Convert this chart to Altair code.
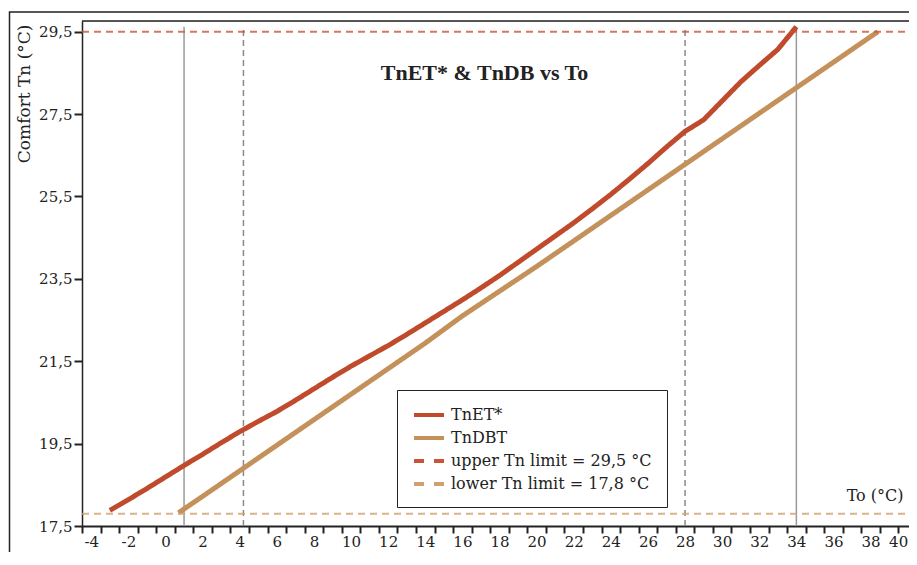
import altair as alt
import pandas as pd

# ---- data ----
to_et = [-3, -2, -1, 0, 1, 2, 3, 4, 5, 6, 7, 8, 9, 10, 11, 12, 13, 14, 15, 16, 17, 18,
         19, 20, 21, 22, 23, 24, 25, 26, 27, 28, 29, 30, 31, 32, 33, 34]
tn_et = [17.88, 18.14, 18.41, 18.69, 18.97, 19.24, 19.52, 19.79, 20.04, 20.28, 20.55,
         20.83, 21.11, 21.38, 21.63, 21.88, 22.15, 22.43, 22.71, 22.99, 23.28, 23.58,
         23.90, 24.22, 24.54, 24.86, 25.20, 25.55, 25.92, 26.30, 26.70, 27.08, 27.36,
         27.82, 28.28, 28.68, 29.07, 29.62]

to_dbt = [0.7, 2, 4, 6, 8, 10, 12, 14, 16, 18, 20, 22, 24, 26, 28, 30, 32, 34, 36, 38, 38.4]
tn_dbt = [17.82, 18.22, 18.84, 19.46, 20.08, 20.70, 21.32, 21.94, 22.60, 23.20, 23.80,
          24.42, 25.04, 25.66, 26.28, 26.90, 27.52, 28.14, 28.76, 29.38, 29.50]

limit_x = [-4.5, 40.5]
upper_limit = 29.5
lower_limit = 17.8

series_names = ["TnET*", "TnDBT", "upper Tn limit = 29,5 °C", "lower Tn limit = 17,8 °C"]
series_colors = ["#bf4a2c", "#c4915a", "#c8553a", "#d2a06c"]

solid_vlines = [1, 34]
dashed_vlines = [4.2, 28]
vline_top = 29.62

y_ticks = [17.5, 19.5, 21.5, 23.5, 25.5, 27.5, 29.5]
x_labels = list(range(-4, 41, 2))
x_ticks = [k + 0.5 for k in range(-5, 41)]

# ---- tables ----
rows = []
for x, y in zip(to_et, tn_et):
    rows.append({"x": x, "y": y, "series": series_names[0]})
for x, y in zip(to_dbt, tn_dbt):
    rows.append({"x": x, "y": y, "series": series_names[1]})
for x in limit_x:
    rows.append({"x": x, "y": upper_limit, "series": series_names[2]})
for x in limit_x:
    rows.append({"x": x, "y": lower_limit, "series": series_names[3]})
lines_df = pd.DataFrame(rows)

solid_df = pd.DataFrame({"x": solid_vlines})
dashed_df = pd.DataFrame({"x": dashed_vlines})

FONT = "DejaVu Serif"
INK = "#222222"

xscale = alt.Scale(domain=[-4.5, 40.07], nice=False, zero=False)
yscale = alt.Scale(domain=[17.5, 29.76], nice=False, zero=False)
cscale = alt.Scale(domain=series_names, range=series_colors)

x_axis = alt.Axis(
    values=x_ticks + x_labels,
    labelExpr="datum.value % 2 === 0 ? '' + datum.value : ''",
    labelAlign={"condition": {"test": "datum.value === 40", "value": "right"}, "value": "center"},
    tickOpacity={"condition": {"test": "datum.value % 1 === 0", "value": 0}, "value": 1},
    labelOverlap=False, labelFlush=False, grid=False,
    domainColor=INK, domainWidth=2, tickColor=INK, tickWidth=2, tickSize=7,
    labelPadding=1, labelFont=FONT, labelFontSize=15, labelColor=INK,
    title="To (°C)", titleFont=FONT, titleFontSize=16, titleFontWeight="normal",
    titleColor=INK, titleX=821, titleY=-31, titleAlign="right",
    titleBaseline="middle", titleAngle=0,
)
y_axis = alt.Axis(
    values=y_ticks,
    labelExpr="replace(format(datum.value, '.1f'), '.', ',')",
    grid=False, domainColor=INK, domainWidth=1.5, tickColor=INK, tickWidth=2, tickSize=8,
    labelPadding=2, labelFont=FONT, labelFontSize=15, labelColor=INK,
    title="Comfort Tn (°C)", titleFont=FONT, titleFontSize=17, titleFontWeight="normal",
    titleColor=INK, titleAngle=-90, titleAlign="right", titleBaseline="middle",
    titleX=-58, titleY=3,
)

legend = alt.Legend(
    title=None, orient="none", legendX=315, legendY=369,
    strokeColor=INK, fillColor="white", padding=15, rowPadding=5,
    symbolType="M-1,0H2.75", symbolSize=256, symbolStrokeWidth=4,
    labelFont=FONT, labelFontSize=16, labelColor=INK, labelLimit=400, labelOffset=19,
)

frame = alt.Chart(alt.Data(values=[{}])).mark_rect(
    fillOpacity=0, stroke=INK, strokeWidth=1.5, clip=False
).encode(x=alt.value(-72.5), y=alt.value(-9), x2=alt.value(2000), y2=alt.value(2000))

top_border = alt.Chart(alt.Data(values=[{}])).mark_rule(
    color=INK, strokeWidth=1.5
).encode(x=alt.value(0), x2=alt.value(900), y=alt.value(0))

solid = alt.Chart(solid_df).mark_rule(color="#9a9a9a", strokeWidth=1.5).encode(
    x=alt.X("x:Q", scale=xscale, axis=x_axis),
    y=alt.datum(17.5, scale=yscale, axis=y_axis),
    y2=alt.datum(vline_top),
)
dashed = alt.Chart(dashed_df).mark_rule(
    color="#8a8a8a", strokeWidth=1.5, strokeDash=[6, 4]
).encode(
    x=alt.X("x:Q", scale=xscale, axis=x_axis),
    y=alt.datum(17.5, scale=yscale, axis=y_axis),
    y2=alt.datum(vline_top),
)

is_limit = "indexof(datum.series, 'limit') >= 0"
lines = alt.Chart(lines_df).mark_line(strokeCap="butt", strokeJoin="round").encode(
    x=alt.X("x:Q", scale=xscale, axis=x_axis),
    y=alt.Y("y:Q", scale=yscale, axis=y_axis),
    color=alt.Color("series:N", scale=cscale, legend=legend),
    detail="series:N",
    strokeWidth=alt.condition(is_limit, alt.value(2), alt.value(5)),
    strokeDash=alt.condition(is_limit, alt.value([7, 5]), alt.value([1, 0])),
    strokeOpacity=alt.condition(is_limit, alt.value(0.8), alt.value(1)),
    order="x:Q",
)

legend_layer = alt.Chart(lines_df).transform_window(
    rn="row_number()", groupby=["series"]
).transform_filter("datum.rn === 1").mark_line(strokeCap="butt").encode(
    x=alt.X("x:Q", scale=xscale, axis=x_axis),
    y=alt.Y("y:Q", scale=yscale, axis=y_axis),
    color=alt.Color("series:N", scale=cscale, legend=legend),
    strokeDash=alt.StrokeDash(
        "series:N",
        scale=alt.Scale(domain=series_names, range=[[1, 0], [1, 0], [10, 10], [10, 10]]),
        legend=legend,
    ),
)

chart = alt.layer(frame, top_border, solid, dashed, lines, legend_layer).properties(
    width=827, height=505,
    autosize=alt.AutoSizeParams(type="none"),
    padding={"left": 74, "top": 13, "right": 0, "bottom": 26},
    title=alt.TitleParams(
        "TnET* & TnDB vs To", font="Liberation Serif", fontSize=22, fontWeight="bold",
        color=INK, anchor="middle", dx=-11, offset=-74,
    ),
).configure_view(stroke=None).configure(background="white")

chart.save("out.html", embed_options={"renderer": "svg", "actions": False})
